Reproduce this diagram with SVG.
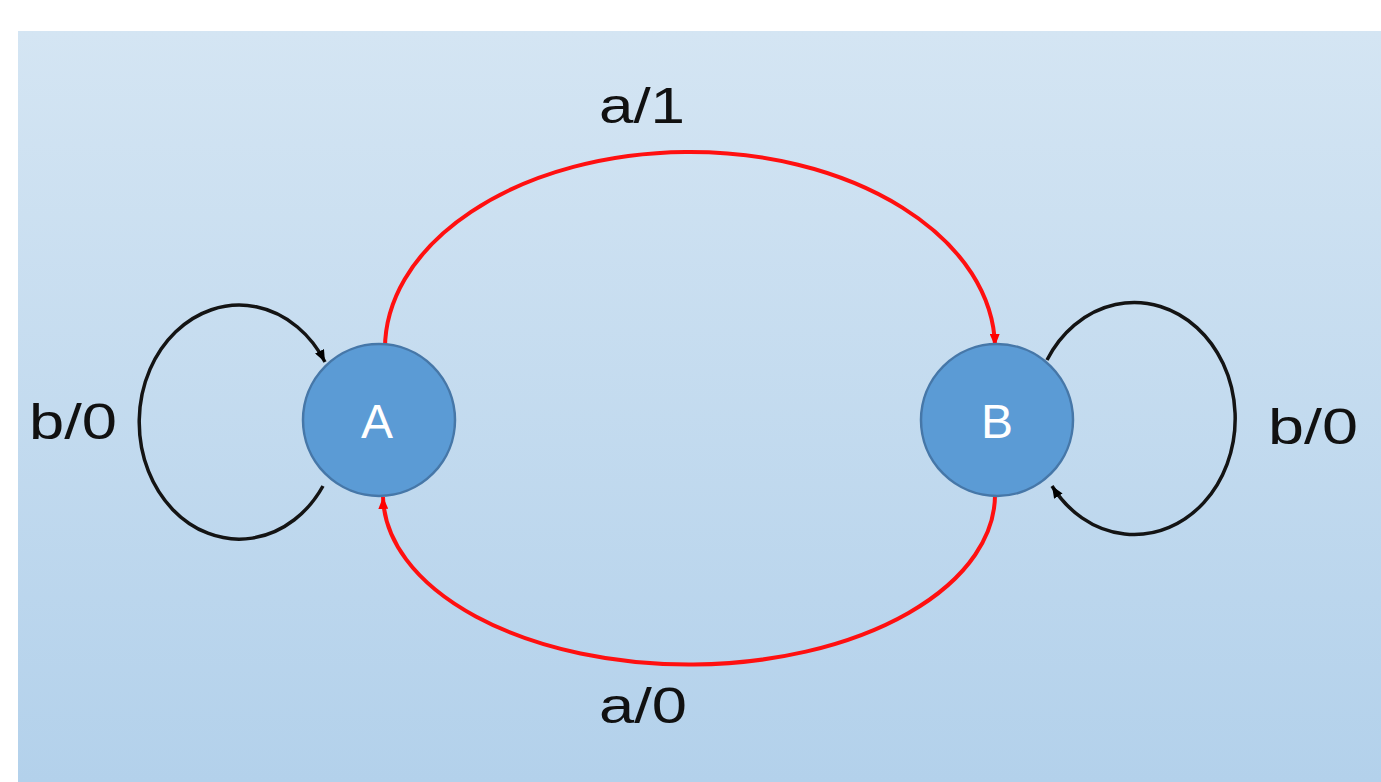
<svg xmlns="http://www.w3.org/2000/svg" width="1381" height="782" viewBox="0 0 1381 782">
  <defs>
    <linearGradient id="bg" x1="0" y1="0" x2="0" y2="1">
      <stop offset="0" stop-color="#d4e5f3"/>
      <stop offset="1" stop-color="#b3d1eb"/>
    </linearGradient>
    <marker id="arrRed" viewBox="0 0 12 10" refX="12" refY="5" markerWidth="12" markerHeight="10" markerUnits="userSpaceOnUse" orient="auto">
      <path d="M0,0 L12,5 L0,10 Z" fill="#ff0000"/>
    </marker>
    <marker id="arrBlack" viewBox="0 0 12 10" refX="12" refY="5" markerWidth="12" markerHeight="10" markerUnits="userSpaceOnUse" orient="auto">
      <path d="M0,0 L12,5 L0,10 Z" fill="#000000"/>
    </marker>
  </defs>
  <style>
    .state { fill: #5b9bd5; stroke: #4677a8; stroke-width: 2.5; }
    .stname { font-family: "Liberation Sans", Arial, sans-serif; font-size: 48px; fill: #ffffff; text-anchor: middle; }
    .lbl { font-family: "Liberation Sans", Arial, sans-serif; font-size: 50px; fill: #111111; }
    .red { fill: none; stroke: #ff1010; stroke-width: 4; }
    .blk { fill: none; stroke: #141414; stroke-width: 3.5; }
  </style>
  <rect x="0" y="0" width="1381" height="782" fill="#ffffff"/>
  <rect x="18" y="31" width="1363" height="751" fill="url(#bg)"/>

  <g id="connectors">
    <path id="e-AB" class="red" d="M 385 352 A 305 197 0 0 1 995 346" marker-end="url(#arrRed)"/>
    <path id="e-BA" class="red" d="M 995 492 A 306 170 0 0 1 383 497" marker-end="url(#arrRed)"/>
    <path id="e-AA" class="blk" d="M 323 486 A 100 117 0 1 1 325 362" marker-end="url(#arrBlack)"/>
    <path id="e-BB" class="blk" d="M 1047 360 A 101 116 0 1 1 1052 486" marker-end="url(#arrBlack)"/>
  </g>

  <g id="labels">
    <text class="lbl" x="599" y="123" textLength="86" lengthAdjust="spacingAndGlyphs">a/1</text>
    <text class="lbl" x="599" y="723" textLength="88" lengthAdjust="spacingAndGlyphs">a/0</text>
    <text class="lbl" x="29" y="439" textLength="88" lengthAdjust="spacingAndGlyphs">b/0</text>
    <text class="lbl" x="1268" y="444" textLength="90" lengthAdjust="spacingAndGlyphs">b/0</text>
  </g>

  <g id="node-A">
    <circle class="state" cx="379" cy="420" r="76"/>
    <text class="stname" x="377" y="438">A</text>
  </g>
  <g id="node-B">
    <circle class="state" cx="997" cy="420" r="76"/>
    <text class="stname" x="997" y="438">B</text>
  </g>
</svg>
